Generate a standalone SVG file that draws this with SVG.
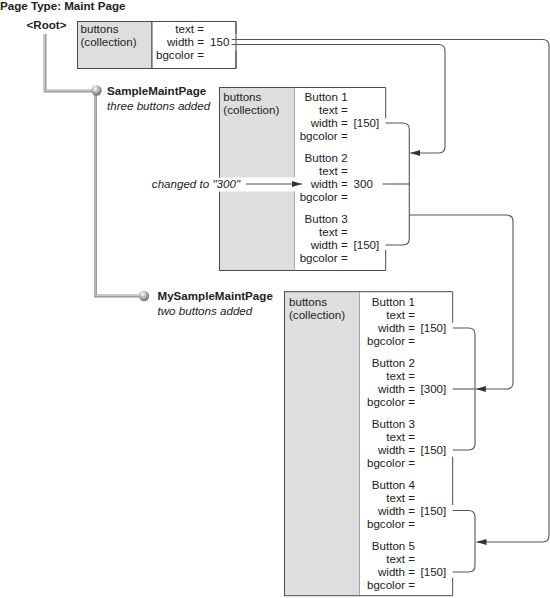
<svg xmlns="http://www.w3.org/2000/svg" width="550" height="598" viewBox="0 0 550 598">
<style>
text{font-family:"Liberation Sans",Arial,sans-serif;font-size:11.6px;fill:#222}
.b{font-weight:bold}
.i{font-style:italic}
.e{text-anchor:end}
.gray{fill:#dedede;stroke:#4a4a4a;stroke-width:1}
.white{fill:#fff;stroke:#4a4a4a;stroke-width:1}
.edge{fill:none;stroke:#4a4a4a;stroke-width:1}
.c{fill:none;stroke:#555;stroke-width:1.1}
.tree{fill:none;stroke:#9c9c9c;stroke-width:3}
.treeh{fill:none;stroke:#c9c9c9;stroke-width:1}
</style>
<defs>
<marker id="ah" viewBox="0 0 10 6" refX="10" refY="3" markerWidth="10" markerHeight="6" markerUnits="userSpaceOnUse" orient="auto">
<path d="M0,0 L10,3 L0,6 Z" fill="#333"/>
</marker>
<radialGradient id="ball" cx="0.38" cy="0.32" r="0.7">
<stop offset="0" stop-color="#ffffff"/>
<stop offset="0.45" stop-color="#b8b8b8"/>
<stop offset="1" stop-color="#6e6e6e"/>
</radialGradient>
</defs>

<text class="b" x="0" y="9.5">Page Type: Maint Page</text>

<g id="tree">
<path class="tree" d="M45,34 V91 H92"/>
<path class="treeh" d="M44.5,34 V90.5 H92"/>
<path class="tree" d="M95.5,95 V296 H140"/>
<path class="treeh" d="M95,95 V295.5 H140"/>
</g>

<g id="root">
<text class="b" x="26.5" y="29">&lt;Root&gt;</text>
<rect class="gray" x="77.5" y="21.5" width="74.5" height="47"/>
<path class="white" d="M152,21.5 H236 V68.5 H152 Z" stroke="none"/>
<path class="edge" d="M152,21.5 H236 V34 M236,50.5 V68.5 H152"/>
<text x="80.5" y="33.3">buttons</text>
<text x="80.5" y="46.3">(collection)</text>
<text class="e" x="204" y="33.3">text =</text>
<text class="e" x="204" y="46.3">width =</text>
<text x="210" y="46.3">150</text>
<text class="e" x="204" y="59.3">bgcolor =</text>
</g>

<g id="sample">
<circle cx="96.5" cy="90.5" r="5.2" fill="url(#ball)"/>
<text class="b" x="107" y="95">SampleMaintPage</text>
<text class="i" x="107" y="109.5">three buttons added</text>
<rect class="gray" x="219.5" y="87.5" width="75" height="183"/>
<rect x="294.5" y="87.5" width="91" height="183" fill="#fff"/>
<path class="edge" d="M294.5,87.5 H385.7 V118.3 M385.7,250 V270.5 H294.5"/>
<rect x="218" y="177.5" width="86" height="14" fill="#fff"/>
<text x="223.3" y="100.5">buttons</text>
<text x="223.3" y="113.5">(collection)</text>
<text class="e" x="347.7" y="100.5">Button 1</text>
<text class="e" x="347.7" y="113.5">text =</text>
<text class="e" x="347.7" y="126.5">width =</text>
<text x="353.5" y="126.5">[150]</text>
<text class="e" x="347.7" y="139.5">bgcolor =</text>
<text class="e" x="347.7" y="161.5">Button 2</text>
<text class="e" x="347.7" y="174.5">text =</text>
<text class="e" x="347.7" y="187.5">width =</text>
<text x="353.5" y="187.5">300</text>
<text class="e" x="347.7" y="200.5">bgcolor =</text>
<text class="e" x="347.7" y="222.5">Button 3</text>
<text class="e" x="347.7" y="235.5">text =</text>
<text class="e" x="347.7" y="248.5">width =</text>
<text x="353.5" y="248.5">[150]</text>
<text class="e" x="347.7" y="261.5">bgcolor =</text>
<text class="i e" x="240" y="187.5">changed to "300"</text>
</g>

<g id="mysample">
<circle cx="144" cy="296" r="5.2" fill="url(#ball)"/>
<text class="b" x="157.5" y="299.5">MySampleMaintPage</text>
<text class="i" x="157.5" y="314.5">two buttons added</text>
<rect class="gray" x="284.5" y="291.7" width="75" height="304"/>
<rect x="359.5" y="291.7" width="93.2" height="304" fill="#fff"/>
<path class="edge" d="M359.5,291.7 H452.7 V322.7 M452.7,456.7 V505 M452.7,578 V595.7 H359.5"/>
<text x="289" y="305.5">buttons</text>
<text x="289" y="318.5">(collection)</text>
<text class="e" x="415" y="305.5">Button 1</text>
<text class="e" x="415" y="318.5">text =</text>
<text class="e" x="415" y="331.5">width =</text>
<text x="420.5" y="331.5">[150]</text>
<text class="e" x="415" y="344.5">bgcolor =</text>
<text class="e" x="415" y="366.5">Button 2</text>
<text class="e" x="415" y="379.5">text =</text>
<text class="e" x="415" y="392.5">width =</text>
<text x="420.5" y="392.5">[300]</text>
<text class="e" x="415" y="405.5">bgcolor =</text>
<text class="e" x="415" y="427.5">Button 3</text>
<text class="e" x="415" y="440.5">text =</text>
<text class="e" x="415" y="453.5">width =</text>
<text x="420.5" y="453.5">[150]</text>
<text class="e" x="415" y="466.5">bgcolor =</text>
<text class="e" x="415" y="488.5">Button 4</text>
<text class="e" x="415" y="501.5">text =</text>
<text class="e" x="415" y="514.5">width =</text>
<text x="420.5" y="514.5">[150]</text>
<text class="e" x="415" y="527.5">bgcolor =</text>
<text class="e" x="415" y="549.5">Button 5</text>
<text class="e" x="415" y="562.5">text =</text>
<text class="e" x="415" y="575.5">width =</text>
<text x="420.5" y="575.5">[150]</text>
<text class="e" x="415" y="588.5">bgcolor =</text>
</g>

<g id="connectors">
<path class="c" d="M231.7,39.5 H542.5 Q549,39.5 549,46 V535.5 Q549,542 542.5,542 H476.5" marker-end="url(#ah)"/>
<path class="c" d="M231.7,44.5 H438.5 Q445,44.5 445,51 V146.5 Q445,153 438.5,153 H410.3" marker-end="url(#ah)"/>
<path class="c" d="M385.5,123 H402.8 Q409.3,123 409.3,129.5 V238.5 Q409.3,245 402.8,245 H385.5"/>
<path class="c" d="M382.5,184 H409.3"/>
<path class="c" d="M409.3,215 H506.5 Q513,215 513,221.5 V382.5 Q513,389 506.5,389 H475.8" marker-end="url(#ah)"/>
<path class="c" d="M246,184 H302" marker-end="url(#ah)"/>
<path class="c" d="M452.7,328 H468.5 Q475,328 475,334.5 V443.5 Q475,450 468.5,450 H452.7"/>
<path class="c" d="M452.7,389 H475"/>
<path class="c" d="M452.7,510.5 H468.5 Q475,510.5 475,517 V565.5 Q475,572 468.5,572 H452.7"/>
</g>
</svg>
